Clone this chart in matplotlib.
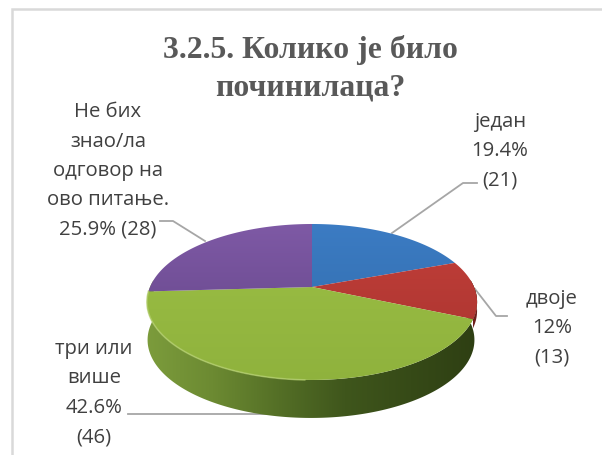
import numpy as np
import matplotlib
matplotlib.use("Agg")
import matplotlib.pyplot as plt
from matplotlib.patches import Polygon, Rectangle

# data
categories = ["један", "двоје", "три или више", "Не бих знао/ла одговор на ово питање."]
counts = [21, 13, 46, 28]
colors_top = ["#3c7cc4", "#c4403a", "#9cbf45", "#7f5aa6"]
colors_low = ["#2f69a6", "#a5322e", "#8fb23d", "#5f4183"]
label_texts = ["један\n19.4%\n(21)", "двоје\n12%\n(13)", "три или\nвише\n42.6%\n(46)",
               "Не бих\nзнао/ла\nодговор на\nово питање.\n25.9% (28)"]
label_pos = [(500, 151), (552, 328), (94, 393), (108, 171)]
leaders = [[(477, 183), (463, 183), (392, 233)],
           [(507, 316), (496, 316), (475, 289)],
           [(128, 414), (285, 414)],
           [(160, 221), (173, 221), (205, 241)]]

CX, CY, A, B, K, DEPTH = 312, 287, 162.0, 75.1, 0.192, 38


def project(theta):
    # circle seen in perspective, theta clockwise from the top
    x, y = np.sin(theta), np.cos(theta)
    w = 1 + K * y
    return CX + A * x / w, CY - B * y / w


def gradient(ax, clip, extent, stops, vertical=True):
    rgb = np.array([matplotlib.colors.to_rgb(c) for c in stops])
    t = np.linspace(0, 1, 200)
    img = np.stack([np.interp(t, np.linspace(0, 1, len(stops)), rgb[:, i]) for i in range(3)], axis=-1)
    img = img[:, None, :] if vertical else img[None, :, :]
    im = ax.imshow(img, extent=extent, aspect="auto", zorder=clip.get_zorder(), interpolation="bilinear")
    im.set_clip_path(clip)


fig = plt.figure(figsize=(6.02, 4.55), dpi=100)
ax = fig.add_axes([0, 0, 1, 1])
ax.set_xlim(0, 602)
ax.set_ylim(455, 0)
ax.axis("off")

# only the top and left of the chart frame are inside the picture
ax.add_patch(Rectangle((11.5, 9), 620, 470, fc="white", ec="#d9d9d9", lw=1.8))

fractions = np.array(counts) / sum(counts)
edges = np.concatenate([[0], np.cumsum(fractions)]) * 2 * np.pi

# leader lines go under the pie
for pts in leaders:
    ax.plot(*zip(*pts), color="#a6a6a6", lw=1.3, zorder=1.5)

# side wall, front half of the rim
t = np.linspace(np.pi * 0.47, np.pi * 1.53, 300)
xs, ys = project(t)
low_x = CX + (xs - CX) * 0.99 - 1
side = Polygon(np.r_[np.c_[xs, ys], np.c_[low_x[::-1], ys[::-1] + DEPTH]], closed=True, fc="none", ec="none", zorder=2)
ax.add_patch(side)
gradient(ax, side, (146, 478, 425, 280),
         ["#7c9c3c", "#6c8a32", "#546f26", "#3f561c", "#364a17", "#2e3f13"], vertical=False)

# red sliver of the side wall
t = np.linspace(np.pi * 0.47, edges[2], 60)
xs, ys = project(t)
ax.fill(np.r_[xs, xs[::-1]], np.r_[ys, ys[::-1] + 9], color="#6e1f1c", zorder=3, lw=0)

# top faces
for i in range(len(counts)):
    t = np.linspace(edges[i], edges[i + 1], 200)
    xs, ys = project(t)
    wedge = Polygon(np.r_[[[CX, CY]], np.c_[xs, ys]], closed=True, fc="none", ec="none", zorder=4)
    ax.add_patch(wedge)
    gradient(ax, wedge, (140, 485, 385, 220), [colors_top[i], colors_low[i]])

# soft light rim on the front edge
t = np.linspace(edges[2] + 1.2, edges[3], 200)
xs, ys = project(t)
ax.plot(xs, ys, color="#b4cf6e", lw=1.2, zorder=5, alpha=0.7)

for txt, (x, y) in zip(label_texts, label_pos):
    ax.text(x, y, txt, ha="center", va="center", fontsize=14.6, color="#404040",
            family="Open Sans", linespacing=1.63, zorder=7)

ax.text(310, 69, "3.2.5. Колико је било\nпочинилаца?", ha="center", va="center",
        fontsize=22.9, fontweight="bold", family="Liberation Serif", color="#595959",
        linespacing=1.39, zorder=7)

fig.savefig("out.png", dpi=100)
